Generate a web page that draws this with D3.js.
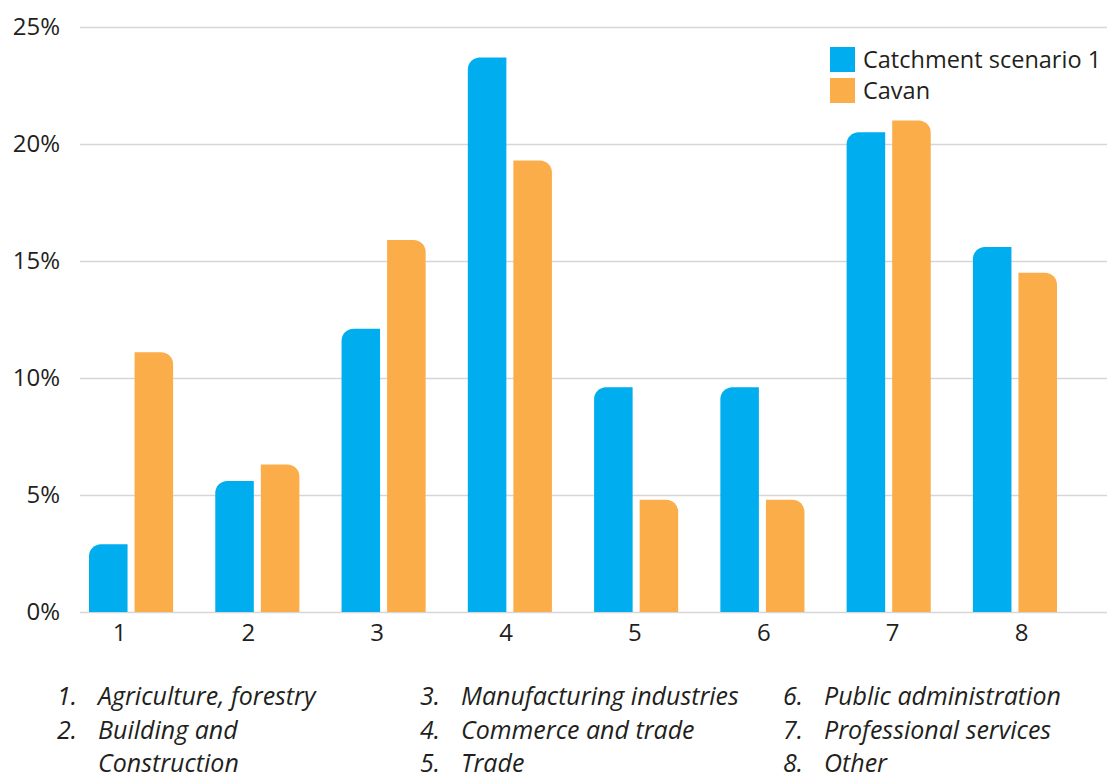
<!DOCTYPE html>
<html>
<head>
<meta charset="utf-8">
<script src="https://cdn.jsdelivr.net/npm/d3@7"></script>
<style>
  body { margin: 0; background: #fff; }
  text { font-family: "Open Sans", sans-serif; fill: #231f20; }
</style>
</head>
<body>
<div id="chart"></div>
<script>
// chart data
var categories = ["1", "2", "3", "4", "5", "6", "7", "8"];
var seriesNames = ["Catchment scenario 1", "Cavan"];
var catchment = [2.9, 5.6, 12.1, 23.7, 9.6, 9.6, 20.5, 15.6];
var cavan = [11.1, 6.3, 15.9, 19.3, 4.8, 4.8, 21.0, 14.5];
var yTicks = [0, 5, 10, 15, 20, 25];
var notes = [
  ["1.", "Agriculture, forestry"],
  ["2.", "Building and", "Construction"],
  ["3.", "Manufacturing industries"],
  ["4.", "Commerce and trade"],
  ["5.", "Trade"],
  ["6.", "Public administration"],
  ["7.", "Professional services"],
  ["8.", "Other"]
];

var width = 1107, height = 778;
var colors = ["#00aeef", "#fbad4a"];

var svg = d3.select("#chart")
            .append("svg")
            .attr("width", width)
            .attr("height", height);

var yScale = d3.scaleLinear()
               .domain([0, 25])
               .range([612, 27]);

var xScale = d3.scaleBand()
               .domain(categories)
               .range([89, 1057])
               .paddingInner(0.334)
               .paddingOuter(0);

var xSub = d3.scaleBand()
             .domain([0, 1])
             .range([0, xScale.bandwidth()])
             .paddingInner(0.154);

// gridlines + y labels
var yAxis = d3.axisLeft(yScale)
              .tickValues(yTicks)
              .tickSize(-(width - 80))
              .tickPadding(20)
              .tickFormat(function(d) { return d + "%"; });

var gy = svg.append("g")
            .attr("transform", "translate(80,0)")
            .call(yAxis);
gy.select(".domain").remove();
gy.selectAll("line").attr("stroke", "#d6d6d6").attr("stroke-width", 1.3);
gy.selectAll("text")
  .attr("font-size", 24)
  .attr("fill", "#231f20")
  .attr("font-family", "Open Sans, sans-serif");

// x labels (the original places them slightly off the group centres)
var xLabel = d3.scalePoint()
               .domain(categories)
               .range([119, 1021]);
var xAxis = d3.axisBottom(xLabel)
              .tickSize(0)
              .tickPadding(12);
var gx = svg.append("g")
            .attr("transform", "translate(0,612)")
            .call(xAxis);
gx.select(".domain").remove();
gx.selectAll("text")
  .attr("font-size", 24)
  .attr("fill", "#231f20")
  .attr("font-family", "Open Sans, sans-serif");

// bar with one rounded top corner
function barPath(x, y, w, h, left) {
  var r = Math.min(12, h, w / 2);
  if (left) {
    return "M" + x + "," + (y + h) +
           "V" + (y + r) +
           "A" + r + "," + r + " 0 0 1 " + (x + r) + "," + y +
           "H" + (x + w) + "V" + (y + h) + "Z";
  }
  return "M" + x + "," + (y + h) +
         "V" + y +
         "H" + (x + w - r) +
         "A" + r + "," + r + " 0 0 1 " + (x + w) + "," + (y + r) +
         "V" + (y + h) + "Z";
}

var series = [catchment, cavan];
series.forEach(function(vals, s) {
  svg.append("g")
     .selectAll("path")
     .data(vals)
     .enter()
     .append("path")
     .attr("fill", colors[s])
     .attr("d", function(d, i) {
       var x = xScale(categories[i]) + xSub(s);
       var y = yScale(d);
       return barPath(x, y, xSub.bandwidth(), yScale(0) - y, s === 0);
     });
});

// legend
var legend = svg.append("g").attr("transform", "translate(830,47)");
seriesNames.forEach(function(name, i) {
  legend.append("rect")
        .attr("x", 0)
        .attr("y", i * 31)
        .attr("width", 25)
        .attr("height", 25)
        .attr("fill", colors[i]);
  legend.append("text")
        .attr("x", 33)
        .attr("y", i * 31 + 21)
        .attr("font-size", 23.5)
        .text(name);
});

// category notes below the chart
var colX = [57, 420, 783];
var rowY = [705, 739, 772];
notes.forEach(function(n, i) {
  var col = i < 2 ? 0 : (i < 5 ? 1 : 2);
  var row = i < 2 ? i : (i < 5 ? i - 2 : i - 5);
  var g = svg.append("g").attr("font-style", "italic").attr("font-size", 25);
  g.append("text")
   .attr("x", colX[col])
   .attr("y", rowY[row])
   .text(n[0]);
  g.append("text")
   .attr("x", colX[col] + 41)
   .attr("y", rowY[row])
   .text(n[1]);
  if (n[2]) {
    g.append("text")
     .attr("x", colX[col] + 41)
     .attr("y", rowY[row + 1])
     .text(n[2]);
  }
});
</script>
</body>
</html>
